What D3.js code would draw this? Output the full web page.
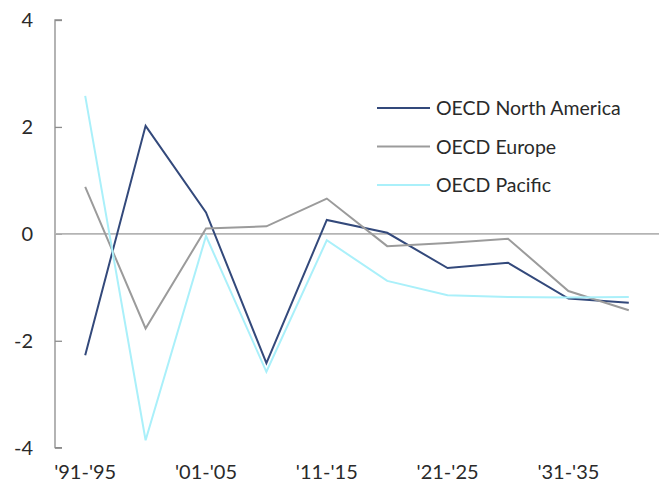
<!DOCTYPE html>
<html>
<head>
<meta charset="utf-8">
<script src="https://cdn.jsdelivr.net/npm/d3@7"></script>
<style>
  html, body { margin: 0; padding: 0; background: #fff; }
  svg { display: block; font-family: "Lato", "Open Sans", sans-serif; }
</style>
</head>
<body>
<svg id="chart" width="669" height="486"></svg>
<script>
// Periods (five-year windows) along the x axis
const periods = ["'91-'95", "'96-'00", "'01-'05", "'06-'10", "'11-'15",
                 "'16-'20", "'21-'25", "'26-'30", "'31-'35", "'36-'40"];
// Only every other period is labelled
const xTickLabels = ["'91-'95", "'01-'05", "'11-'15", "'21-'25", "'31-'35"];
const yTicks = [-4, -2, 0, 2, 4];

const northAmerica = [-2.27, 2.02, 0.40, -2.42, 0.26, 0.02, -0.64, -0.54, -1.21, -1.29];
const europe       = [0.88, -1.77, 0.10, 0.14, 0.66, -0.23, -0.17, -0.09, -1.07, -1.43];
const pacific      = [2.58, -3.86, -0.04, -2.58, -0.12, -0.88, -1.15, -1.18, -1.19, -1.18];

const seriesNames  = ["OECD North America", "OECD Europe", "OECD Pacific"];
const seriesValues = [northAmerica, europe, pacific];
const seriesColors = ["#33497b", "#9b9b9b", "#aaf0fa"];

const svg = d3.select("#chart");
const plotLeft = 55, plotRight = 659, plotTop = 20, plotBottom = 447.7;

const x = d3.scaleBand().domain(periods).range([plotLeft, plotRight]);
const y = d3.scaleLinear().domain([-4, 4]).range([plotBottom, plotTop]);
const cx = p => x(p) + x.bandwidth() / 2;

// Y axis with ticks pointing inward
const yAxis = svg.append("g")
  .attr("transform", `translate(${plotLeft},0)`)
  .call(d3.axisRight(y).tickValues(yTicks).tickSize(7).tickFormat(""));
yAxis.select(".domain").attr("stroke", "#8c8c8c").attr("stroke-width", 1.3)
  .attr("d", `M7,${plotTop}H0V${plotBottom}H7`);
yAxis.selectAll(".tick line").attr("stroke", "#8c8c8c").attr("stroke-width", 1.3);

svg.append("g").selectAll("text").data(yTicks).join("text")
  .attr("x", 33).attr("y", d => y(d)).attr("dy", "0.36em")
  .attr("text-anchor", "end")
  .attr("font-size", 20).attr("fill", "#2a2a2a")
  .text(d => d);

// Zero reference line
svg.append("line")
  .attr("x1", plotLeft).attr("x2", plotRight)
  .attr("y1", y(0)).attr("y2", y(0))
  .attr("stroke", "#b4b4b4").attr("stroke-width", 1.8);

// X labels
svg.append("g").selectAll("text").data(xTickLabels).join("text")
  .attr("x", d => cx(d)).attr("y", 479)
  .attr("text-anchor", "middle")
  .attr("font-size", 20).attr("fill", "#2a2a2a")
  .text(d => d);

// Series lines
const line = d3.line().x((d, i) => cx(periods[i])).y(d => y(d));
seriesValues.forEach((vals, k) => {
  svg.append("path")
    .datum(vals)
    .attr("fill", "none")
    .attr("stroke", seriesColors[k])
    .attr("stroke-width", 2)
    .attr("stroke-linejoin", "miter")
    .attr("d", line);
});

// Legend
const legend = svg.append("g");
seriesNames.forEach((name, k) => {
  const ly = 108 + k * 38.5;
  legend.append("line")
    .attr("x1", 377).attr("x2", 430).attr("y1", ly).attr("y2", ly)
    .attr("stroke", seriesColors[k]).attr("stroke-width", 2);
  legend.append("text")
    .attr("x", 436).attr("y", ly).attr("dy", "0.36em")
    .attr("font-size", 19.5).attr("fill", "#2a2a2a")
    .text(name);
});
</script>
</body>
</html>
